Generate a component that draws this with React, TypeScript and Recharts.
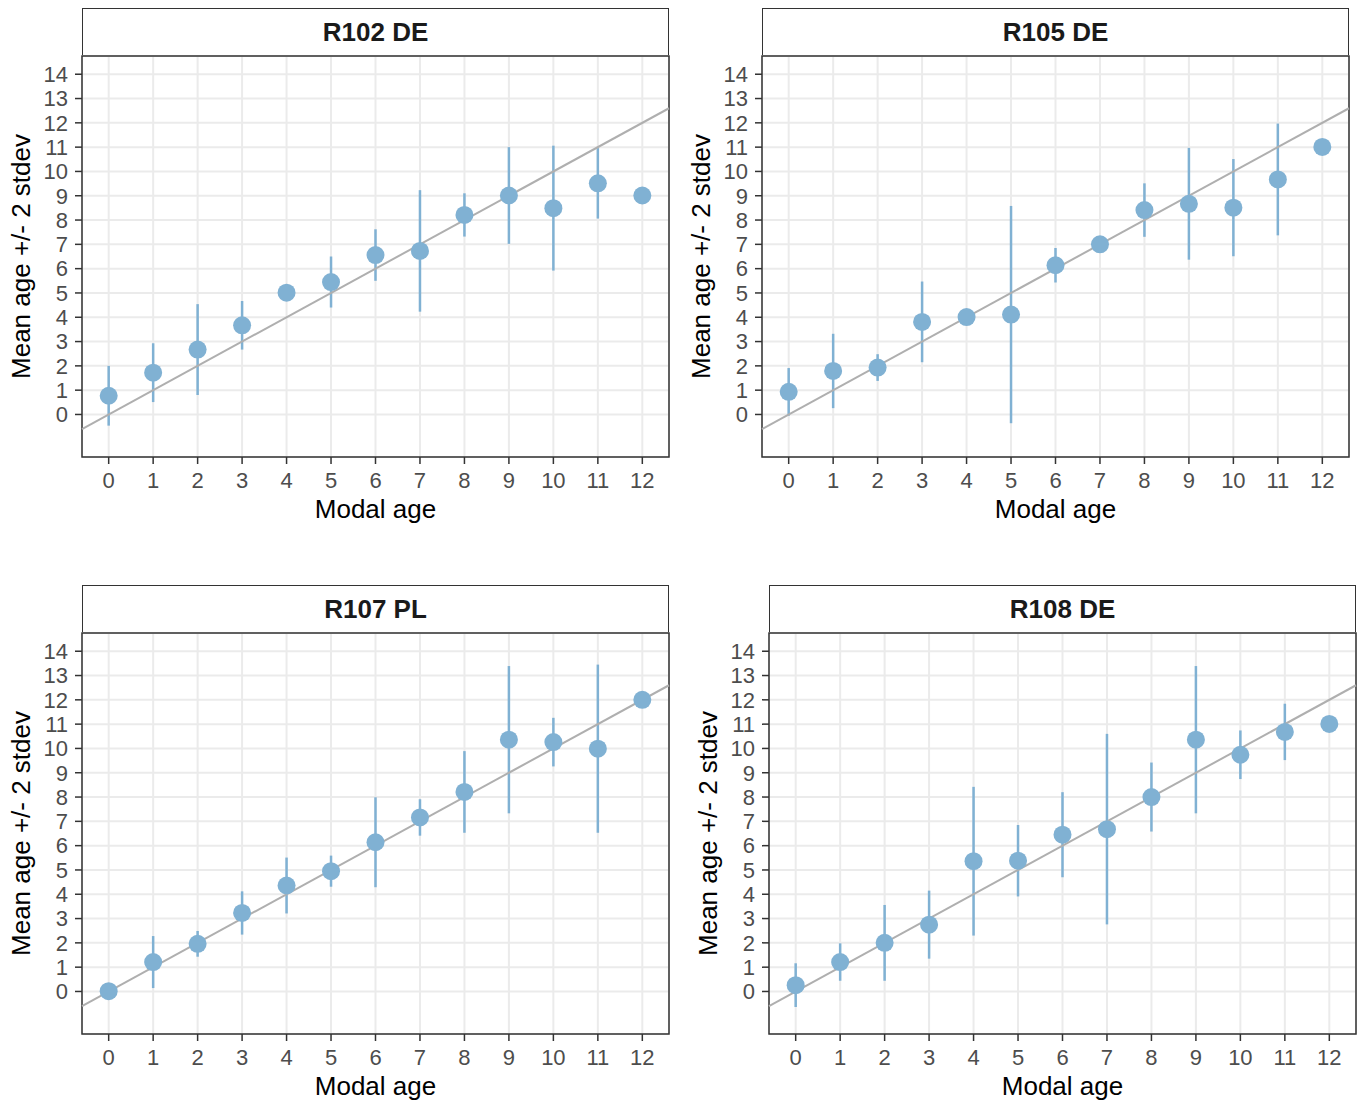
import { ScatterChart, Scatter, XAxis, YAxis, CartesianGrid, ErrorBar, ReferenceLine, ReferenceArea, Label } from "recharts";

const ages = [0, 1, 2, 3, 4, 5, 6, 7, 8, 9, 10, 11, 12];
const yTicks = [0, 1, 2, 3, 4, 5, 6, 7, 8, 9, 10, 11, 12, 13, 14];

// mean age per modal age and half-width of the +/- 2 stdev bar
const r102Mean = [0.77, 1.72, 2.67, 3.67, 5.01, 5.45, 6.56, 6.73, 8.21, 9.01, 8.49, 9.51, 9.01];
const r102Err = [1.23, 1.21, 1.87, 1.0, 0, 1.05, 1.06, 2.5, 0.89, 1.99, 2.57, 1.45, 0];
const r105Mean = [0.93, 1.79, 1.93, 3.81, 4.01, 4.11, 6.14, 7.0, 8.41, 8.67, 8.51, 9.67, 11.01];
const r105Err = [0.98, 1.53, 0.55, 1.66, 0, 4.47, 0.71, 0, 1.1, 2.3, 2.0, 2.3, 0];
const r107Mean = [0.01, 1.21, 1.96, 3.23, 4.36, 4.95, 6.14, 7.16, 8.21, 10.36, 10.26, 9.99, 12.0];
const r107Err = [0, 1.07, 0.53, 0.89, 1.15, 0.64, 1.85, 0.75, 1.68, 3.03, 1.0, 3.46, 0];
const r108Mean = [0.26, 1.21, 2.0, 2.75, 5.36, 5.38, 6.45, 6.68, 8.0, 10.36, 9.74, 10.68, 11.01];
const r108Err = [0.9, 0.77, 1.56, 1.4, 3.06, 1.47, 1.75, 3.92, 1.42, 3.03, 1.0, 1.16, 0];

const FONT = "'Liberation Sans', Arial, sans-serif";
const POINT = "#80B1D3";
const X_DOMAIN: [number, number] = [-0.6, 12.6];
const Y_DOMAIN: [number, number] = [-1.75, 14.75];

interface PanelProps {
  title: string;
  means: number[];
  errs: number[];
  left: number;
  top: number;
}

function Panel({ title, means, errs, left, top }: PanelProps) {
  const data = ages.map((age, i) => ({ age, mean: means[i], err: errs[i] }));

  return (
    <>
      <div
        style={{
          position: "absolute",
          left: left + 82,
          top: top - 48,
          width: 587,
          height: 49,
          boxSizing: "border-box",
          border: "1.5px solid #333",
          background: "#fff",
          display: "flex",
          alignItems: "center",
          justifyContent: "center",
          fontWeight: 700,
          fontSize: 26,
          color: "#1a1a1a",
        }}
      >
        {title}
      </div>
      <div style={{ position: "absolute", left, top: top - 2 }}>
        <ScatterChart width={671} height={473} margin={{ top: 2, right: 2, bottom: 0, left: 0 }}>
          <CartesianGrid stroke="#EBEBEB" strokeWidth={2} />
          <XAxis
            type="number"
            dataKey="age"
            domain={X_DOMAIN}
            ticks={ages}
            interval={0}
            allowDataOverflow
            height={70}
            axisLine={false}
            tickSize={7}
            tickMargin={8}
            tickLine={{ stroke: "#333", strokeWidth: 1.5 }}
            tick={{ fill: "#4D4D4D", fontSize: 22, fontFamily: FONT }}
          >
            <Label value="Modal age" position="insideBottom" offset={9} fontSize={26} fill="#000" fontFamily={FONT} />
          </XAxis>
          <YAxis
            type="number"
            dataKey="mean"
            domain={Y_DOMAIN}
            ticks={yTicks}
            interval={0}
            allowDataOverflow
            width={82}
            axisLine={false}
            tickSize={7}
            tickMargin={7}
            tickLine={{ stroke: "#333", strokeWidth: 1.5 }}
            tick={{ fill: "#4D4D4D", fontSize: 22, fontFamily: FONT }}
          >
            <Label
              value="Mean age +/- 2 stdev"
              angle={-90}
              position="insideLeft"
              offset={21}
              fontSize={26}
              fill="#000"
              fontFamily={FONT}
              style={{ textAnchor: "middle" }}
            />
          </YAxis>
          <Scatter
            data={data}
            isAnimationActive={false}
            shape={(p: any) => <circle cx={p.cx} cy={p.cy} r={9} fill={POINT} />}
          >
            <ErrorBar dataKey="err" direction="y" width={0} stroke={POINT} strokeWidth={2.5} />
          </Scatter>
          <ReferenceLine
            segment={[
              { x: X_DOMAIN[0], y: X_DOMAIN[0] },
              { x: X_DOMAIN[1], y: X_DOMAIN[1] },
            ]}
            stroke="#AFAFAF"
            strokeWidth={2}
          />
          <ReferenceArea
            x1={X_DOMAIN[0]}
            x2={X_DOMAIN[1]}
            y1={Y_DOMAIN[0]}
            y2={Y_DOMAIN[1]}
            fill="none"
            stroke="#333"
            strokeWidth={1.5}
          />
        </ScatterChart>
      </div>
    </>
  );
}

export default function App() {
  return (
    <div
      style={{
        position: "absolute",
        left: 0,
        top: 0,
        width: 1358,
        height: 1103,
        background: "#fff",
        fontFamily: FONT,
      }}
    >
      <Panel title="R102 DE" means={r102Mean} errs={r102Err} left={0} top={56} />
      <Panel title="R105 DE" means={r105Mean} errs={r105Err} left={680} top={56} />
      <Panel title="R107 PL" means={r107Mean} errs={r107Err} left={0} top={633} />
      <Panel title="R108 DE" means={r108Mean} errs={r108Err} left={687} top={633} />
    </div>
  );
}
